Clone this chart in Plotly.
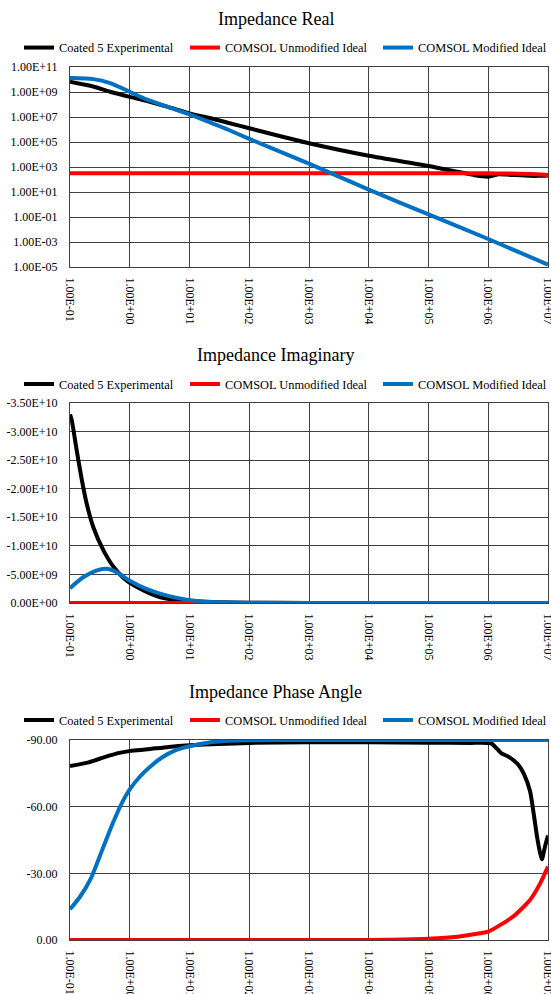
import plotly.graph_objects as go

# ---------------- DATA ----------------
series_names = ["Coated 5 Experimental", "COMSOL Unmodified Ideal", "COMSOL Modified Ideal"]
series_colors = ["#000000", "#FF0000", "#0070C0"]

x_tickvals = [1e-1, 1e0, 1e1, 1e2, 1e3, 1e4, 1e5, 1e6, 1e7]
x_ticktext = ["1.00E-01", "1.00E+00", "1.00E+01", "1.00E+02", "1.00E+03",
              "1.00E+04", "1.00E+05", "1.00E+06", "1.00E+07"]

# Panel 1: real part (ohm)
real_exp_f = [0.1, 0.245, 0.47, 1, 1.9, 4.2, 10, 24.5, 43.6, 100, 1e3, 1e4, 1e5, 3e5, 6e5,
              1e6, 1.5e6, 2e6, 5e6, 7e6, 1e7]
real_exp_z = [6.6e9, 2.75e9, 1.05e9, 4.1e8, 1.95e8, 6.8e7, 1.95e7, 7.2e6, 3.5e6, 1.26e6,
              7.9e4, 7.9e3, 1.2e3, 4.2e2, 2.2e2, 1.7e2, 2.6e2, 2.5e2, 1.95e2, 1.95e2, 2.1e2]
real_unmod_f = [0.1, 1e3, 1e5, 1e6, 2e6, 5e6, 1e7]
real_unmod_z = [316, 316, 316, 313, 300, 270, 229]
real_mod_f = [0.1, 0.245, 0.47, 1, 1.9, 4.2, 10, 24.5, 43.6, 100, 1e3, 1e4, 1e5, 1e6, 1e7]
real_mod_z = [1.29e10, 1.07e10, 5.1e9, 1.05e9, 2.6e8, 6.8e7, 1.62e7, 3.0e6, 1.0e6, 1.78e5,
              1.86e3, 15.5, 0.162, 1.74e-3, 1.55e-5]

real_yvals = [1e-5, 1e-3, 1e-1, 1e1, 1e3, 1e5, 1e7, 1e9, 1e11]
real_ytext = ["1.00E-05", "1.00E-03", "1.00E-01", "1.00E+01", "1.00E+03",
              "1.00E+05", "1.00E+07", "1.00E+09", "1.00E+11"]

# Panel 2: imaginary part (ohm)
imag_exp_f = [0.1, 0.107, 0.129, 0.158, 0.19, 0.245, 0.363, 0.537, 0.89, 1.7, 3.24, 6.17,
              10, 100, 1e3, 1e4, 1e5, 1e6, 1e7]
imag_exp_z = [-3.3e10, -3.2e10, -2.68e10, -2.15e10, -1.74e10, -1.33e10, -9.2e9, -6.3e9,
              -3.9e9, -2.2e9, -1.0e9, -5e8, -2.5e8, -6e7, -5e6, -5e5, -7e4, -1e4, -3e2]
imag_unmod_f = [0.1, 1e3, 1e5, 1e6, 1e7]
imag_unmod_z = [0, 0, -0.2, -20, -140]
imag_mod_f = [0.1, 0.166, 0.275, 0.41, 0.60, 1.0, 1.9, 4.2, 10, 21, 41, 100, 1e3, 1e4, 1e5, 1e6, 1e7]
imag_mod_z = [-2.6e9, -4.5e9, -5.68e9, -5.98e9, -5.4e9, -3.9e9, -2.46e9, -1.28e9, -5e8,
              -2.3e8, -1e8, -3e7, -3e6, -3e5, -3e4, -3e3, -3e2]

imag_yvals = [0, -5e9, -1e10, -1.5e10, -2e10, -2.5e10, -3e10, -3.5e10]
imag_ytext = ["0.00E+00", "-5.00E+09", "-1.00E+10", "-1.50E+10", "-2.00E+10",
              "-2.50E+10", "-3.00E+10", "-3.50E+10"]

# Panel 3: phase angle (degrees)
phase_exp_f = [0.1, 0.197, 0.39, 0.67, 1.03, 1.98, 4.5, 10.1, 30, 100, 1e3, 1e4, 1e5, 5.2e5,
               7.2e5, 1.12e6, 1.41e6, 1.66e6, 2.24e6, 3.16e6, 3.98e6, 5.0e6, 5.75e6, 6.6e6,
               7.4e6, 7.9e6, 8.9e6, 1e7]
phase_exp_d = [-78.3, -79.8, -82.4, -84.2, -85.1, -85.8, -86.9, -87.6, -88.2, -88.7, -89.0,
               -89.0, -88.8, -88.7, -88.8, -88.5, -86.0, -84.0, -82.3, -79.0, -74.5, -67.0,
               -57.0, -46.0, -39.0, -36.3, -42.0, -47.0]
phase_unmod_f = [0.1, 1e3, 1e4, 1e5, 3.1e5, 7.3e5, 1e6, 2.6e6, 5e6, 7.4e6, 1e7]
phase_unmod_d = [0, 0, -0.05, -0.6, -1.5, -3.0, -3.75, -10.5, -18.0, -25.5, -33.0]
phase_mod_f = [0.1, 0.15, 0.226, 0.34, 0.51, 0.766, 1.0, 1.51, 2.27, 3.41, 5.88, 10, 22.8, 45,
               100, 1e3, 1e7]
phase_mod_d = [-13.8, -19.8, -28.0, -40.0, -52.0, -62.5, -67.8, -73.8, -78.3, -82.0, -85.4,
               -87.2, -89.0, -89.7, -89.9, -90.0, -90.0]

phase_yvals = [0, -30, -60, -90]
phase_ytext = ["0.00", "-30.00", "-60.00", "-90.00"]

titles = ["Impedance Real", "Impedance Imaginary", "Impedance Phase Angle"]

# ---------------- FIGURE ----------------
W, H = 551, 994
FONT = "Liberation Serif, Times New Roman, serif"
GRID = "#404040"
AXIS1 = "#D9D9D9"

def px(p):
    return p / W

def py(p):
    return 1 - p / H

panels = [
    dict(data=[(real_exp_f, real_exp_z), (real_unmod_f, real_unmod_z), (real_mod_f, real_mod_z)],
         top=67, bot=267, ytype="log", yrange=[-5, 11], yvals=real_yvals, ytext=real_ytext,
         title_y=19.5, legend_y=48),
    dict(data=[(imag_exp_f, imag_exp_z), (imag_unmod_f, imag_unmod_z), (imag_mod_f, imag_mod_z)],
         top=403, bot=603, ytype="linear", yrange=[0, -3.5e10], yvals=imag_yvals, ytext=imag_ytext,
         title_y=355, legend_y=384.5),
    dict(data=[(phase_exp_f, phase_exp_d), (phase_unmod_f, phase_unmod_d), (phase_mod_f, phase_mod_d)],
         top=740, bot=940, ytype="linear", yrange=[0, -90], yvals=phase_yvals, ytext=phase_ytext,
         title_y=691.5, legend_y=720.5),
]
legend_x_px = [19, 185, 378]

fig = go.Figure()
layout = dict(width=W, height=H, margin=dict(l=0, r=0, t=0, b=0, autoexpand=False),
              paper_bgcolor="white", plot_bgcolor="white",
              font=dict(family=FONT, size=12, color="black"),
              annotations=[], shapes=[])

xdom = [px(70), px(548)]
k = 0
for i, p in enumerate(panels):
    n = "" if i == 0 else str(i + 1)
    for j, ((fx, fy), name, col) in enumerate(zip(p["data"], series_names, series_colors)):
        k += 1
        leg = "legend" if k == 1 else "legend%d" % k
        fig.add_trace(go.Scatter(x=fx, y=fy, mode="lines", name=name,
                                 line=dict(color=col, width=4, shape="spline", smoothing=0.6),
                                 xaxis="x" + n, yaxis="y" + n, legend=leg, showlegend=True))
        layout[leg] = dict(orientation="h", x=px(legend_x_px[j]), xanchor="left",
                           y=py(p["legend_y"]), yanchor="middle", bgcolor="rgba(0,0,0,0)",
                           borderwidth=0,
                           font=dict(family=FONT, size=12.4, color="black"),
                           itemwidth=30)
    layout["xaxis" + n] = dict(type="log", range=[-1, 7], domain=xdom, anchor="y" + n,
                               tickvals=x_tickvals, ticktext=x_ticktext, tickangle=90,
                               showgrid=True, gridcolor=GRID, gridwidth=1,
                               showline=True, linecolor=GRID, linewidth=1, mirror=True,
                               ticks="", ticklabelstandoff=7, automargin=False,
                               ticklabeloverflow="allow",
                               tickfont=dict(family=FONT, size=12, color="black"))
    layout["yaxis" + n] = dict(type=p["ytype"], range=p["yrange"],
                               domain=[py(p["bot"]), py(p["top"])], anchor="x" + n,
                               tickvals=p["yvals"], ticktext=p["ytext"],
                               showgrid=True, gridcolor=GRID, gridwidth=1, zeroline=False,
                               showline=True, linecolor=GRID, linewidth=1, mirror=True,
                               ticks="", ticklabelstandoff=9, automargin=False,
                               ticklabeloverflow="allow",
                               tickfont=dict(family=FONT, size=12, color="black"))
    layout["annotations"].append(dict(text=titles[i], x=px(275.5), xref="paper", xanchor="center",
                                      y=py(p["title_y"]), yref="paper", yanchor="middle",
                                      showarrow=False,
                                      font=dict(family=FONT, size=18, color="black")))
    # light grey axis-crossing line at frequency 1 (log10 = 0)
    layout["shapes"].append(dict(type="line", xref="x" + n, yref="y" + n + " domain",
                                 x0=0, x1=0, y0=0, y1=1, layer="below",
                                 line=dict(color=AXIS1, width=1)))
    if i == 0:
        layout["shapes"].append(dict(type="line", xref="x domain", yref="y",
                                     x0=0, x1=1, y0=0, y1=0, layer="below",
                                     line=dict(color=AXIS1, width=1)))

fig.update_layout(**layout)
# remove the default page margin so the 551x994 figure fills the window exactly
fig.write_html("out.html", config={"displayModeBar": False},
               post_script="document.body.style.margin='0px';document.body.style.overflow='hidden';")
